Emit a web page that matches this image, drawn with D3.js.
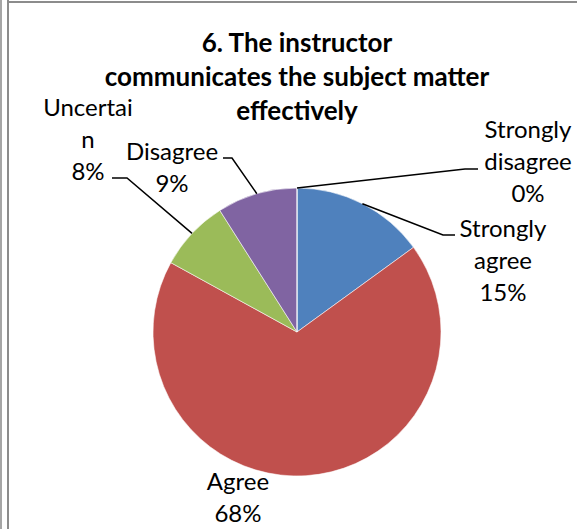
<!DOCTYPE html>
<html>
    <head>
        <title>Instructor communicates effectively</title>
        <script src="https://d3js.org/d3.v7.min.js"></script>
        <style>
            body { margin: 0; background: #fff; }
            svg { display: block; font-family: Lato, "Open Sans", sans-serif; }
        </style>
    </head>
    <body>
        <svg id="chart" width="577" height="529"></svg>
        <script>
            // data
            var categories = ['Strongly agree', 'Agree', 'Uncertain', 'Disagree', 'Strongly disagree'];
            var percents = [15, 68, 8, 9, 0];
            var labelLines = [
                ['Strongly', 'agree', '15%'],
                ['Agree', '68%'],
                ['Uncertai', 'n', '8%'],
                ['Disagree', '9%'],
                ['Strongly', 'disagree', '0%']
            ];
            var titleLines = ['6. The instructor', 'communicates the subject matter', 'effectively'];

            var colors = ['#4F81BD', '#C0504D', '#9BBB59', '#8064A2', '#F79646'];

            // label placement: text centre x, first baseline y, elbow of leader line (null = no leader)
            var labelPos = [
                { x: 503, y: 237, elbow: [443, 235], end: 455 },
                { x: 238, y: 490, elbow: null },
                { x: 88, y: 116, elbow: [127, 178], end: 112 },
                { x: 172, y: 160, elbow: [232, 158], end: 223 },
                { x: 528, y: 138, elbow: [465, 169], end: 478 }
            ];

            var svg = d3.select('#chart');
            var cx = 297, cy = 332, radius = 144;
            var lineGap = 32;

            // outer frame lines
            svg.append('rect').attr('x', 0).attr('y', 0).attr('width', 2).attr('height', 529).attr('fill', '#a6a6a6');
            svg.append('rect').attr('x', 7).attr('y', 0).attr('width', 2).attr('height', 529).attr('fill', '#8c8c8c');
            svg.append('rect').attr('x', 7).attr('y', 1).attr('width', 570).attr('height', 2).attr('fill', '#8c8c8c');

            // title
            svg.append('text')
                .attr('text-anchor', 'middle')
                .style('font-weight', 'bold')
                .style('font-size', '26px')
                .attr('fill', '#000')
                .selectAll('tspan')
                .data(titleLines)
                .enter()
                .append('tspan')
                .attr('x', cx)
                .attr('y', (d, i) => 52 + i * 34)
                .text((d) => d);

            var data = categories.map((c, i) => ({ name: c, value: percents[i], i: i }));

            var pie = d3.pie().sort(null).value((d) => d.value);
            var arcs = pie(data);
            var arc = d3.arc().innerRadius(0).outerRadius(radius);

            var g = svg.append('g').attr('transform', 'translate(' + cx + ',' + cy + ')');

            g.selectAll('path')
                .data(arcs)
                .enter()
                .append('path')
                .attr('d', arc)
                .attr('fill', (d) => colors[d.data.i])
                .attr('stroke', '#fff')
                .attr('stroke-width', 0.8)
                .attr('stroke-opacity', 0.7);

            // leader lines from the arc mid point on the rim
            arcs.forEach(function (d) {
                var p = labelPos[d.data.i];
                if (!p.elbow) return;
                var a = (d.startAngle + d.endAngle) / 2;
                var sx = cx + radius * Math.sin(a);
                var sy = cy - radius * Math.cos(a);
                svg.append('polyline')
                    .attr('points', [[sx, sy], p.elbow, [p.end, p.elbow[1]]].map((q) => q.join(',')).join(' '))
                    .attr('fill', 'none')
                    .attr('stroke', '#000')
                    .attr('stroke-width', 1.5);
            });

            // labels
            data.forEach(function (d) {
                var p = labelPos[d.i];
                svg.append('text')
                    .attr('text-anchor', 'middle')
                    .style('font-size', '24px')
                    .attr('fill', '#000')
                    .selectAll('tspan')
                    .data(labelLines[d.i])
                    .enter()
                    .append('tspan')
                    .attr('x', p.x)
                    .attr('y', (t, k) => p.y + k * lineGap)
                    .text((t) => t);
            });
        </script>
    </body>
</html>
